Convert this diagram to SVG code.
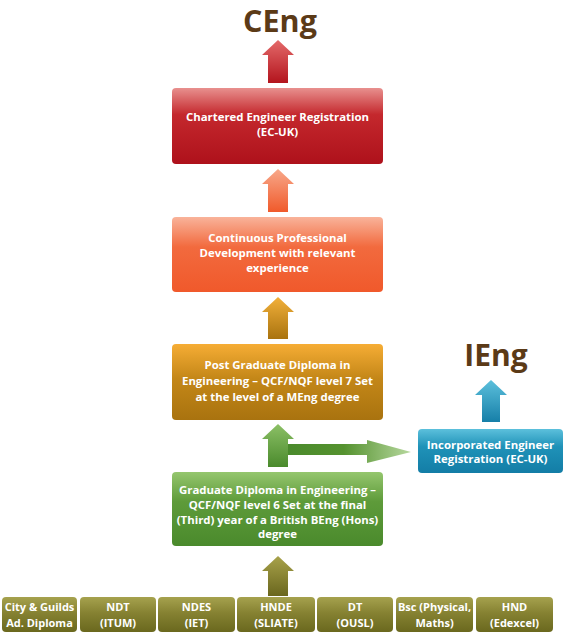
<svg xmlns="http://www.w3.org/2000/svg" width="564" height="634" viewBox="0 0 564 634">
<defs>
<style>
.t{font-family:"Open Sans","Noto Sans","Liberation Sans",sans-serif;font-weight:bold;font-size:11.4px;fill:#ffffff;text-anchor:middle}
.b{font-size:11px}
.big{font-family:"Open Sans","Noto Sans","Liberation Sans",sans-serif;font-weight:bold;fill:#5b3a17;text-anchor:middle}
</style>
<linearGradient id="gRed" x1="0" y1="0" x2="0" y2="1"><stop offset="0" stop-color="#e8908e"/><stop offset="0.35" stop-color="#c4282d"/><stop offset="1" stop-color="#ae111b"/></linearGradient>
<linearGradient id="gOr" x1="0" y1="0" x2="0" y2="1"><stop offset="0" stop-color="#f9b39a"/><stop offset="0.4" stop-color="#f26a3e"/><stop offset="1" stop-color="#f0592b"/></linearGradient>
<linearGradient id="gGold" x1="0" y1="0" x2="0" y2="1"><stop offset="0" stop-color="#f6ad35"/><stop offset="0.45" stop-color="#c48718"/><stop offset="1" stop-color="#a9730f"/></linearGradient>
<linearGradient id="gGreen" x1="0" y1="0" x2="0" y2="1"><stop offset="0" stop-color="#95c66e"/><stop offset="0.4" stop-color="#5e9b3a"/><stop offset="1" stop-color="#4a8a2c"/></linearGradient>
<linearGradient id="gGreenH" x1="288" y1="0" x2="412" y2="0" gradientUnits="userSpaceOnUse"><stop offset="0" stop-color="#4a8a2c"/><stop offset="0.45" stop-color="#55922f"/><stop offset="1" stop-color="#b8d9a0"/></linearGradient>
<linearGradient id="gBlue" x1="0" y1="0" x2="0" y2="1"><stop offset="0" stop-color="#5cc0dc"/><stop offset="0.4" stop-color="#1f92b8"/><stop offset="1" stop-color="#137da6"/></linearGradient>
<linearGradient id="gOlive" x1="0" y1="0" x2="0" y2="1"><stop offset="0" stop-color="#a6a24e"/><stop offset="0.45" stop-color="#868232"/><stop offset="1" stop-color="#6a681e"/></linearGradient>
<linearGradient id="aRed" x1="0" y1="0" x2="0" y2="1"><stop offset="0" stop-color="#e46a6a"/><stop offset="1" stop-color="#b3141d"/></linearGradient>
<linearGradient id="aOr" x1="0" y1="0" x2="0" y2="1"><stop offset="0" stop-color="#f8a88a"/><stop offset="1" stop-color="#f05a2b"/></linearGradient>
<linearGradient id="aGold" x1="0" y1="0" x2="0" y2="1"><stop offset="0" stop-color="#f2b03a"/><stop offset="1" stop-color="#a9730f"/></linearGradient>
<linearGradient id="aGreen" x1="0" y1="0" x2="0" y2="1"><stop offset="0" stop-color="#8cc066"/><stop offset="1" stop-color="#4a8a2c"/></linearGradient>
<linearGradient id="aOlive" x1="0" y1="0" x2="0" y2="1"><stop offset="0" stop-color="#a8a24a"/><stop offset="1" stop-color="#6a661e"/></linearGradient>
<linearGradient id="aBlue" x1="0" y1="0" x2="0" y2="1"><stop offset="0" stop-color="#5cc0dc"/><stop offset="1" stop-color="#167fa8"/></linearGradient>
</defs>

<g id="connectors">
<path d="M278,40 L294,55 L288,55 L288,83 L268,83 L268,55 L262,55 Z" fill="url(#aRed)"/>
<path d="M278,169 L294,184 L288,184 L288,212 L268,212 L268,184 L262,184 Z" fill="url(#aOr)"/>
<path d="M278,297 L294,312 L288,312 L288,339 L268,339 L268,312 L262,312 Z" fill="url(#aGold)"/>
<path d="M287,444 L367,444 L367,440 L411,452 L367,463 L367,455 L287,455 Z" fill="url(#gGreenH)"/>
<path d="M278,424 L294,439 L288,439 L288,467 L268,467 L268,439 L262,439 Z" fill="url(#aGreen)"/>
<path d="M278,556 L294,571 L288,571 L288,596 L268,596 L268,571 L262,571 Z" fill="url(#aOlive)"/>
<path d="M491,380 L507,395 L500,395 L500,422 L482,422 L482,395 L475,395 Z" fill="url(#aBlue)"/>
</g>

<g id="ceng"><text class="big" x="280" y="32" font-size="30.5">CEng</text></g>
<g id="ieng"><text class="big" x="496" y="366" font-size="30">IEng</text></g>

<g id="chartered">
<rect x="172" y="88" width="211" height="76" rx="4" fill="url(#gRed)"/>
<text class="t" x="277.5" y="121">Chartered Engineer Registration</text>
<text class="t" x="277.5" y="136">(EC-UK)</text>
</g>

<g id="cpd">
<rect x="172" y="217" width="211" height="75" rx="4" fill="url(#gOr)"/>
<text class="t" x="277.5" y="242">Continuous Professional</text>
<text class="t" x="277.5" y="257">Development with relevant</text>
<text class="t" x="277.5" y="272">experience</text>
</g>

<g id="pgd">
<rect x="172" y="344" width="211" height="76" rx="4" fill="url(#gGold)"/>
<text class="t" x="277.5" y="369">Post Graduate Diploma in</text>
<text class="t" x="277.5" y="385">Engineering – QCF/NQF level 7 Set</text>
<text class="t" x="277.5" y="401">at the level of a MEng degree</text>
</g>

<g id="gd">
<rect x="172" y="472" width="211" height="74" rx="4" fill="url(#gGreen)"/>
<text class="t" x="277.5" y="494">Graduate Diploma in Engineering –</text>
<text class="t" x="277.5" y="509">QCF/NQF level 6 Set at the final</text>
<text class="t" x="277.5" y="524">(Third) year of a British BEng (Hons)</text>
<text class="t" x="277.5" y="538">degree</text>
</g>

<g id="incorporated">
<rect x="418" y="429" width="145" height="44" rx="4" fill="url(#gBlue)"/>
<text class="t" x="490.5" y="449">Incorporated Engineer</text>
<text class="t" x="490.5" y="463">Registration (EC-UK)</text>
</g>

<g id="cg">
<rect x="2" y="597" width="75" height="35" rx="4" fill="url(#gOlive)"/>
<text class="t b" x="39.5" y="611">City &amp; Guilds</text>
<text class="t b" x="39.5" y="627">Ad. Diploma</text>
</g>
<g id="ndt">
<rect x="80" y="597" width="76" height="35" rx="4" fill="url(#gOlive)"/>
<text class="t b" x="118" y="611">NDT</text>
<text class="t b" x="118" y="627">(ITUM)</text>
</g>
<g id="ndes">
<rect x="158" y="597" width="77" height="35" rx="4" fill="url(#gOlive)"/>
<text class="t b" x="196.5" y="611">NDES</text>
<text class="t b" x="196.5" y="627">(IET)</text>
</g>
<g id="hnde">
<rect x="237" y="597" width="78" height="35" rx="4" fill="url(#gOlive)"/>
<text class="t b" x="276" y="611">HNDE</text>
<text class="t b" x="276" y="627">(SLIATE)</text>
</g>
<g id="dt">
<rect x="317" y="597" width="76" height="35" rx="4" fill="url(#gOlive)"/>
<text class="t b" x="355" y="611">DT</text>
<text class="t b" x="355" y="627">(OUSL)</text>
</g>
<g id="bsc">
<rect x="396" y="597" width="77" height="35" rx="4" fill="url(#gOlive)"/>
<text class="t b" x="434.5" y="611">Bsc (Physical,</text>
<text class="t b" x="434.5" y="627">Maths)</text>
</g>
<g id="hnd">
<rect x="476" y="597" width="77" height="35" rx="4" fill="url(#gOlive)"/>
<text class="t b" x="514.5" y="611">HND</text>
<text class="t b" x="514.5" y="627">(Edexcel)</text>
</g>
</svg>
